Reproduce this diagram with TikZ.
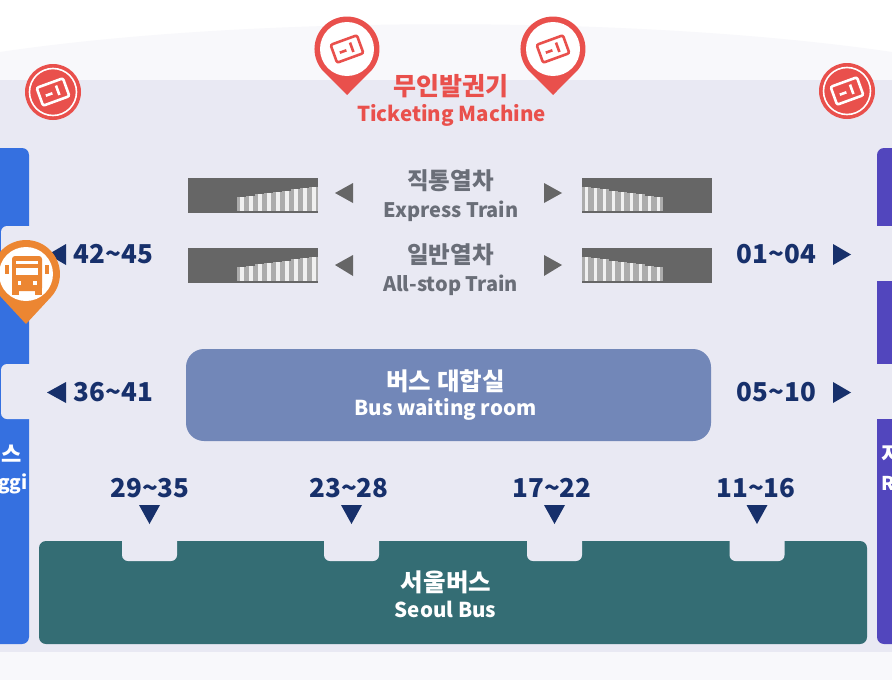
\documentclass[tikz,border=0pt]{standalone}
\usepackage{xcolor}
\usepackage{fontspec}
\setmainfont{Noto Sans CJK KR}

\definecolor{hallbg}{HTML}{E9E9F3}
\definecolor{palebg}{HTML}{F8F8FB}
\definecolor{ticketred}{HTML}{E9504C}
\definecolor{busorange}{HTML}{EC8632}
\definecolor{navy}{HTML}{17306B}
\definecolor{trackgray}{HTML}{666666}
\definecolor{labelgray}{HTML}{6A6E78}
\definecolor{gyeonggiblue}{HTML}{3570E0}
\definecolor{regionpurple}{HTML}{5246BD}
\definecolor{roomblue}{HTML}{7287B8}
\definecolor{seoulteal}{HTML}{346D74}

\tikzset{
    kortext/.style={font=\fontsize{#1}{#1}\selectfont\bfseries, inner sep=0pt},
    bigno/.style={kortext=26, text=navy},
    ticketicon/.pic={
        \draw [rounded corners=2pt, line width=2.6pt, rotate=20, pic actions] (-14,-9.5) rectangle (14,9.5);
        \draw [line width=2.6pt, rotate=20, pic actions] (-8,1) -- (-1,1);
        \draw [line width=2.6pt, rotate=20, pic actions] (5,-5) -- (5,5);
    },
    redpin/.pic={
        \fill [ticketred] (0,46) -- (-23,23) arc [start angle=135, end angle=405, radius=32.5] -- cycle;
        \fill [white] (0,0) circle [radius=27];
        \pic [draw=ticketred] {ticketicon};
    },
    redbadge/.pic={
        \fill [ticketred] (0,0) circle [radius=28];
        \draw [white, line width=1.6pt] (0,0) circle [radius=23.5];
        \pic [draw=white] {ticketicon};
    },
    stairs/.pic={
        \fill [trackgray] (0,0) rectangle (130,35);
        \foreach \stripe in {0,...,8} {
            \fill [gray!65] (49+\stripe*9,19-\stripe*1.3) rectangle (58+\stripe*9,33);
            \fill [white!88!gray] (52+\stripe*9,19-\stripe*1.3) rectangle (55.5+\stripe*9,33);
        }
    },
}

\begin{document}
\begin{tikzpicture}[x=1pt, y=-1pt]
        \clip (0,0) rectangle (892,680);

        % Background
        \fill [white] (0,0) rectangle (892,680);
        \fill [palebg] (0,52) .. controls (250,15) and (640,15) .. (892,52) -- (892,80) -- (0,80) -- cycle;
        \fill [hallbg] (0,80) rectangle (892,652);
        \fill [palebg] (0,652) rectangle (892,680);

        % Side bus bays
        \fill [gyeonggiblue, rounded corners=7pt] (-20,148) rectangle (29,644);
        \fill [regionpurple, rounded corners=7pt] (877,148) rectangle (920,644);
        \fill [hallbg, rounded corners=6pt] (1,226) rectangle (40,281);
        \fill [hallbg, rounded corners=6pt] (1,364) rectangle (40,419);
        \fill [hallbg] (870,226) rectangle (892,281);
        \fill [hallbg] (870,364) rectangle (892,419);
        \node (gyeonggiko) [kortext=22, text=white, anchor=east] at (22,454) {스};
        \node (gyeonggien) [kortext=19, text=white, anchor=east] at (28,484) {ggi};
        \node (regionko) [kortext=22, text=white, anchor=west] at (881,454) {지};
        \node (regionen) [kortext=19, text=white, anchor=west] at (881,483) {R};

        % Ticketing machines
        \pic at (53,92) {redbadge};
        \pic at (847,91) {redbadge};
        \pic at (347,49) {redpin};
        \pic at (553,49) {redpin};
        \node (ticketko) [kortext=25, text=ticketred] at (451,86) {무인발권기};
        \node (ticketen) [kortext=20.5, text=ticketred] at (451.5,115) {Ticketing Machine};

        % Train platforms
        \pic at (188,178) {stairs};
        \pic at (188,248) {stairs};
        \pic [xscale=-1] at (712,178) {stairs};
        \pic [xscale=-1] at (712,248) {stairs};
        \fill [trackgray] (335,193) -- (353,183) -- (353,203) -- cycle;
        \fill [trackgray] (335,265) -- (353,255) -- (353,276) -- cycle;
        \fill [trackgray] (562,193) -- (544,183) -- (544,203) -- cycle;
        \fill [trackgray] (562,265) -- (544,255) -- (544,276) -- cycle;
        \node (expressko) [kortext=23.5, text=labelgray] at (450.5,181) {직통열차};
        \node (expressen) [kortext=20, text=labelgray] at (451,211) {Express Train};
        \node (allstopko) [kortext=23.5, text=labelgray] at (450.5,255) {일반열차};
        \node (allstopen) [kortext=20, text=labelgray] at (450.5,285) {All-stop Train};

        % Waiting room
        \fill [roomblue, rounded corners=18pt] (186,349) rectangle (711,441);
        \node (roomko) [kortext=24.5, text=white] at (445.5,381) {버스 대합실};
        \node (roomen) [kortext=20.5, text=white] at (445.5,409) {Bus waiting room};

        % Seoul bus bay
        \fill [seoulteal, rounded corners=7pt] (39,541) rectangle (867,644);
        \foreach \bay in {149.5,351.5,554.5,757}
            \fill [hallbg, rounded corners=6pt] (\bay-27.5,525) rectangle (\bay+27.5,561);
        \node (seoulko) [kortext=24.5, text=white] at (446,582) {서울버스};
        \node (seoulen) [kortext=20.5, text=white] at (445.5,609) {Seoul Bus};

        % Gate numbers
        \node (gateA) [bigno] at (113.5,254) {42\textasciitilde45};
        \node (gateB) [bigno] at (113.5,392) {36\textasciitilde41};
        \node (gateC) [bigno] at (776.5,254) {01\textasciitilde04};
        \node (gateD) [bigno] at (776.5,392) {05\textasciitilde10};
        \node (gateE) [bigno] at (150,488) {29\textasciitilde35};
        \node (gateF) [bigno] at (349,488) {23\textasciitilde28};
        \node (gateG) [bigno] at (552,488) {17\textasciitilde22};
        \node (gateH) [bigno] at (756,488) {11\textasciitilde16};
        \fill [navy] (48,254.5) -- (66,244) -- (66,265) -- cycle;
        \fill [navy] (47,392.5) -- (66,382) -- (66,403) -- cycle;
        \fill [navy] (851,254.5) -- (833,244) -- (833,265) -- cycle;
        \fill [navy] (851,392.5) -- (833,382) -- (833,403) -- cycle;
        \foreach \bay in {149.5,351.5,554.5,757}
            \fill [navy] (\bay-10.5,505) -- (\bay+10.5,505) -- (\bay,524) -- cycle;

        % Bus pin
        \fill [busorange] (26,324) -- (1.1,297.2) arc [start angle=137, end angle=403, radius=34] -- cycle;
        \fill [white] (26,274) circle [radius=27];
        \fill [busorange, rounded corners=3pt] (12,256) rectangle (42,291);
        \fill [busorange] (12,288) rectangle (19,295);
        \fill [busorange] (35,288) rectangle (42,295);
        \fill [busorange] (5,265) rectangle (8.5,274);
        \fill [busorange] (45,265) rectangle (48.5,274);
        \fill [white] (16,261) rectangle (38,264);
        \fill [white] (16,268) rectangle (38,275);
        \fill [white] (17.5,281) rectangle (21,285);
        \fill [white] (33,281) rectangle (36.5,285);
    \end{tikzpicture}
\end{document}
